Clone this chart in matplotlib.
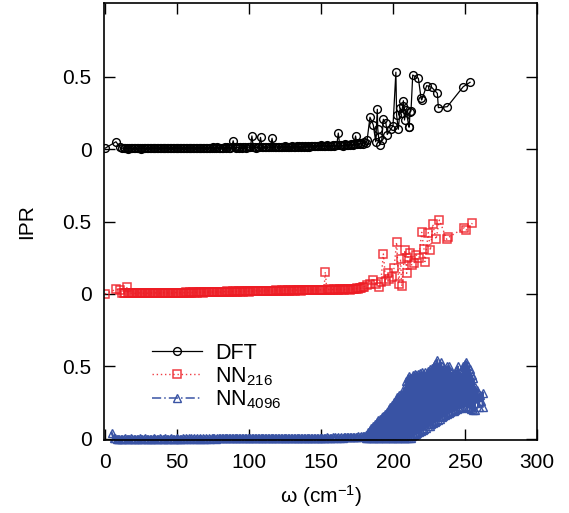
import matplotlib
matplotlib.use("Agg")
import matplotlib.pyplot as plt

plt.rcParams['font.family'] = ['Liberation Sans', 'DejaVu Sans']
plt.rcParams['mathtext.fontset'] = 'custom'
plt.rcParams['mathtext.rm'] = 'Liberation Sans'
plt.rcParams['mathtext.it'] = 'Liberation Sans:italic'

# ---------------- data ----------------
# low-frequency band: common frequency grid (cm^-1), 12 ... 180
band_w = [12, 13, 14, 15, 16, 17, 18, 19, 20, 21,
          22, 23, 24, 25, 26, 27, 28, 29, 30, 31,
          32, 33, 34, 35, 36, 37, 38, 39, 40, 41,
          42, 43, 44, 45, 46, 47, 48, 49, 50, 51,
          52, 53, 54, 55, 56, 57, 58, 59, 60, 61,
          62, 63, 64, 65, 66, 67, 68, 69, 70, 71,
          72, 73, 74, 75, 76, 77, 78, 79, 80, 81,
          82, 83, 84, 85, 86, 87, 88, 89, 90, 91,
          92, 93, 94, 95, 96, 97, 98, 99, 100, 101,
          102, 103, 104, 105, 106, 107, 108, 109, 110, 111,
          112, 113, 114, 115, 116, 117, 118, 119, 120, 121,
          122, 123, 124, 125, 126, 127, 128, 129, 130, 131,
          132, 133, 134, 135, 136, 137, 138, 139, 140, 141,
          142, 143, 144, 145, 146, 147, 148, 149, 150, 151,
          152, 153, 154, 155, 156, 157, 158, 159, 160, 161,
          162, 163, 164, 165, 166, 167, 168, 169, 170, 171,
          172, 173, 174, 175, 176, 177, 178, 179, 180]

# DFT
dft_head_w = [0, 7.6, 10.5]
dft_head_ipr = [0.005, 0.05, 0.012]
dft_band_ipr = [0.006, 0.004, 0.008, 0.005, 0.003, 0.007, 0.005, 0.004, 0.006, 0.005,
                0.004, 0.007, 0.005, 0.003, 0.006, 0.005, 0.004, 0.007, 0.005, 0.006,
                0.004, 0.007, 0.005, 0.006, 0.004, 0.008, 0.005, 0.006, 0.004, 0.007,
                0.005, 0.008, 0.006, 0.005, 0.009, 0.006, 0.005, 0.008, 0.006, 0.007,
                0.005, 0.009, 0.006, 0.008, 0.005, 0.007, 0.009, 0.006, 0.008, 0.007,
                0.006, 0.009, 0.007, 0.01, 0.006, 0.008, 0.01, 0.007, 0.009, 0.008,
                0.007, 0.01, 0.008, 0.011, 0.007, 0.009, 0.011, 0.008, 0.01, 0.009,
                0.008, 0.011, 0.009, 0.012, 0.008, 0.01, 0.012, 0.057, 0.011, 0.009,
                0.012, 0.01, 0.013, 0.009, 0.011, 0.014, 0.01, 0.012, 0.013, 0.011,
                0.09, 0.012, 0.014, 0.01, 0.013, 0.015, 0.08, 0.011, 0.014, 0.012,
                0.015, 0.011, 0.013, 0.016, 0.074, 0.012, 0.015, 0.013, 0.017, 0.014,
                0.012, 0.016, 0.014, 0.018, 0.013, 0.015, 0.017, 0.014, 0.019, 0.016,
                0.014, 0.018, 0.015, 0.02, 0.016, 0.019, 0.015, 0.021, 0.017, 0.019,
                0.016, 0.022, 0.018, 0.02, 0.024, 0.018, 0.022, 0.019, 0.025, 0.021,
                0.023, 0.019, 0.026, 0.022, 0.024, 0.02, 0.027, 0.023, 0.025, 0.03,
                0.11, 0.026, 0.03, 0.024, 0.028, 0.032, 0.027, 0.031, 0.029, 0.034,
                0.03, 0.036, 0.09, 0.033, 0.038, 0.035, 0.04, 0.037, 0.045]
dft_tail_w = [181, 182, 184, 186.3, 188, 189.1, 189.4, 190, 191, 192.2, 193.3, 195.1, 196,
              198.4, 200, 202, 202.5, 203.7, 205, 206, 206.7, 207.2, 208, 209, 211.1, 211.3,
              211.8, 212.5, 213.7, 217.6, 219.5, 219.9, 223.4, 226.9, 230.8, 231.5, 237.7,
              248.8, 253.5]
dft_tail_ipr = [0.04, 0.06, 0.219, 0.166, 0.05, 0.274, 0.14, 0.08, 0.03, 0.062, 0.205, 0.177,
                0.1, 0.136, 0.16, 0.53, 0.234, 0.136, 0.28, 0.25, 0.30, 0.333, 0.2, 0.27, 0.15,
                0.154, 0.257, 0.262, 0.51, 0.488, 0.35, 0.338, 0.437, 0.425, 0.384, 0.285,
                0.292, 0.43, 0.46]

# NN216
nn216_head_w = [0, 7.6, 10.4]
nn216_head_ipr = [0.0, 0.032, 0.028]
nn216_band_ipr = [0.01, 0.006, 0.008, 0.05, 0.007, 0.004, 0.006, 0.005, 0.007, 0.004,
                  0.006, 0.005, 0.007, 0.004, 0.006, 0.005, 0.007, 0.005, 0.006, 0.004,
                  0.007, 0.005, 0.006, 0.008, 0.005, 0.007, 0.006, 0.008, 0.006, 0.009,
                  0.006, 0.008, 0.007, 0.009, 0.006, 0.008, 0.007, 0.01, 0.007, 0.009,
                  0.008, 0.01, 0.007, 0.009, 0.011, 0.008, 0.01, 0.012, 0.009, 0.011,
                  0.01, 0.012, 0.009, 0.013, 0.011, 0.012, 0.01, 0.013, 0.011, 0.014,
                  0.012, 0.014, 0.011, 0.015, 0.013, 0.014, 0.012, 0.016, 0.013, 0.015,
                  0.014, 0.017, 0.015, 0.018, 0.014, 0.017, 0.016, 0.019, 0.015, 0.018,
                  0.016, 0.019, 0.017, 0.02, 0.016, 0.019, 0.018, 0.021, 0.017, 0.02,
                  0.018, 0.021, 0.019, 0.022, 0.018, 0.021, 0.02, 0.023, 0.019, 0.022,
                  0.02, 0.023, 0.021, 0.024, 0.02, 0.023, 0.022, 0.025, 0.021, 0.024,
                  0.022, 0.025, 0.023, 0.026, 0.022, 0.025, 0.024, 0.027, 0.023, 0.026,
                  0.024, 0.027, 0.025, 0.028, 0.024, 0.027, 0.026, 0.029, 0.025, 0.028,
                  0.026, 0.029, 0.027, 0.03, 0.026, 0.029, 0.028, 0.031, 0.027, 0.03,
                  0.028, 0.152, 0.029, 0.032, 0.028, 0.031, 0.03, 0.033, 0.029, 0.032,
                  0.03, 0.033, 0.031, 0.034, 0.03, 0.033, 0.032, 0.035, 0.031, 0.034,
                  0.033, 0.036, 0.034, 0.038, 0.035, 0.04, 0.038, 0.045, 0.05]
nn216_tail_w = [182, 184, 186.3, 188, 190, 191.5, 193.3, 195, 196.7, 197.5, 199, 200.7, 202.5,
                204, 205.3, 206, 208.3, 209.5, 209.9, 211.8, 213, 214.6, 216, 218, 219.9,
                221.5, 222.2, 224.5, 226, 227.6, 229.9, 232.2, 237.3, 238.5, 249.5, 250.7,
                255.1]
nn216_tail_ipr = [0.06, 0.07, 0.097, 0.07, 0.05, 0.08, 0.276, 0.09, 0.147, 0.1, 0.12, 0.177,
                  0.357, 0.07, 0.241, 0.055, 0.303, 0.143, 0.246, 0.285, 0.2, 0.212, 0.27,
                  0.25, 0.425, 0.31, 0.223, 0.423, 0.3, 0.481, 0.377, 0.51, 0.377, 0.39,
                  0.457, 0.44, 0.488]

# NN4096
nn4096_head_w = [4.6, 6, 7, 8, 9, 10, 11]
nn4096_head_ipr = [0.043, 0.006, 0.004, 0.003, 0.002, 0.003, 0.002]
nn4096_band_ipr = [0.003, 0.002, 0.004, 0.002, 0.003, 0.002, 0.004, 0.002, 0.003, 0.002,
                   0.003, 0.002, 0.004, 0.002, 0.003, 0.002, 0.004, 0.002, 0.003, 0.002,
                   0.003, 0.002, 0.004, 0.002, 0.003, 0.002, 0.004, 0.003, 0.003, 0.002,
                   0.004, 0.002, 0.003, 0.003, 0.004, 0.002, 0.003, 0.003, 0.004, 0.002,
                   0.003, 0.003, 0.004, 0.002, 0.004, 0.003, 0.004, 0.003, 0.004, 0.003,
                   0.004, 0.003, 0.004, 0.003, 0.005, 0.003, 0.004, 0.003, 0.005, 0.003,
                   0.004, 0.003, 0.005, 0.004, 0.005, 0.003, 0.005, 0.004, 0.005, 0.004,
                   0.005, 0.004, 0.006, 0.004, 0.005, 0.004, 0.006, 0.004, 0.005, 0.004,
                   0.006, 0.005, 0.006, 0.004, 0.006, 0.005, 0.006, 0.005, 0.007, 0.005,
                   0.006, 0.005, 0.007, 0.005, 0.007, 0.006, 0.007, 0.005, 0.008, 0.006,
                   0.007, 0.006, 0.008, 0.006, 0.007, 0.006, 0.008, 0.006, 0.008, 0.007,
                   0.007, 0.006, 0.008, 0.007, 0.008, 0.006, 0.009, 0.007, 0.008, 0.007,
                   0.008, 0.007, 0.009, 0.007, 0.008, 0.007, 0.009, 0.008, 0.009, 0.007,
                   0.009, 0.008, 0.01, 0.008, 0.009, 0.008, 0.01, 0.008, 0.009, 0.008,
                   0.01, 0.008, 0.011, 0.009, 0.01, 0.009, 0.011, 0.009, 0.012, 0.01,
                   0.011, 0.01, 0.012, 0.01, 0.013, 0.011, 0.012, 0.011, 0.014, 0.012,
                   0.015, 0.013, 0.016, 0.014, 0.018, 0.016, 0.02, 0.018, 0.022]
nn4096_tail_w = [181.0, 181.4, 181.8, 182.2, 182.6, 183.0, 183.4, 183.8, 184.2, 184.6,
                 185.0, 185.4, 185.8, 186.2, 186.6, 187.0, 187.4, 187.8, 188.2, 188.6,
                 189.0, 189.4, 189.8, 190.2, 190.6, 191.0, 191.4, 191.8, 192.2, 192.6,
                 193.0, 193.4, 193.8, 194.2, 194.6, 195.0, 195.4, 195.8, 196.2, 196.6,
                 197.0, 197.4, 197.8, 198.2, 198.6, 199.0, 199.4, 199.8, 200.2, 200.6,
                 201.0, 201.4, 201.8, 202.2, 202.6, 203.0, 203.4, 203.8, 204.2, 204.6,
                 205.0, 205.4, 205.8, 206.2, 206.6, 207.0, 207.4, 207.8, 208.2, 208.6,
                 209.0, 209.4, 209.8, 210.2, 210.6, 211.0, 211.4, 211.8, 212.2, 212.6,
                 213.0, 213.4, 213.8, 214.2, 214.6, 215.0, 215.4, 215.8, 216.2, 216.6,
                 217.0, 217.4, 217.8, 218.2, 218.6, 219.0, 219.4, 219.8, 220.2, 220.6,
                 221.0, 221.4, 221.8, 222.2, 222.6, 223.0, 223.4, 223.8, 224.2, 224.6,
                 225.0, 225.4, 225.8, 226.2, 226.6, 227.0, 227.4, 227.8, 228.2, 228.6,
                 229.0, 229.4, 229.8, 230.2, 230.6, 231.0, 231.4, 231.8, 232.2, 232.6,
                 233.0, 233.4, 233.8, 234.2, 234.6, 235.0, 235.4, 235.8, 236.2, 236.6,
                 237.0, 237.4, 237.8, 238.2, 238.6, 239.0, 239.4, 239.8, 240.2, 240.6,
                 241.0, 241.4, 241.8, 242.2, 242.6, 243.0, 243.4, 243.8, 244.2, 244.6,
                 245.0, 245.4, 245.8, 246.2, 246.6, 247.0, 247.4, 247.8, 248.2, 248.6,
                 249.0, 249.4, 249.8, 250.2, 250.6, 251.0, 251.4, 251.8, 252.2, 252.6,
                 253.0, 253.4, 253.8, 254.2, 254.6, 255.0, 255.4, 255.8, 256.2, 256.6,
                 257.0, 257.8, 258.6, 259.4, 260.2, 261.0, 262.3, 262.3]
nn4096_tail_ipr = [0.005, 0.03, 0.015, 0.004, 0.05, 0.025, 0.006, 0.062, 0.03, 0.004,
                   0.075, 0.04, 0.005, 0.09, 0.045, 0.006, 0.1, 0.05, 0.005, 0.115,
                   0.06, 0.005, 0.13, 0.07, 0.006, 0.14, 0.07, 0.005, 0.15, 0.08,
                   0.006, 0.16, 0.09, 0.005, 0.17, 0.09, 0.007, 0.185, 0.1, 0.005,
                   0.205, 0.11, 0.006, 0.22, 0.12, 0.005, 0.235, 0.13, 0.006, 0.255,
                   0.14, 0.005, 0.27, 0.15, 0.006, 0.29, 0.15, 0.005, 0.3, 0.16,
                   0.006, 0.31, 0.17, 0.005, 0.32, 0.18, 0.007, 0.35, 0.2, 0.006,
                   0.4, 0.22, 0.008, 0.42, 0.23, 0.007, 0.437, 0.24, 0.01, 0.42,
                   0.24, 0.018, 0.44, 0.25, 0.025, 0.45, 0.26, 0.035, 0.44, 0.26,
                   0.042, 0.45, 0.27, 0.048, 0.453, 0.27, 0.055, 0.46, 0.28, 0.06,
                   0.45, 0.28, 0.07, 0.46, 0.29, 0.078, 0.44, 0.3, 0.088, 0.47,
                   0.3, 0.092, 0.48, 0.3, 0.1, 0.49, 0.31, 0.11, 0.5, 0.32,
                   0.12, 0.52, 0.33, 0.126, 0.545, 0.33, 0.133, 0.5, 0.33, 0.14,
                   0.53, 0.34, 0.15, 0.5, 0.33, 0.157, 0.48, 0.33, 0.165, 0.47,
                   0.33, 0.17, 0.5, 0.34, 0.176, 0.5, 0.34, 0.183, 0.46, 0.33,
                   0.19, 0.45, 0.32, 0.196, 0.44, 0.32, 0.202, 0.47, 0.33, 0.208,
                   0.5, 0.33, 0.212, 0.46, 0.32, 0.215, 0.45, 0.33, 0.22, 0.5,
                   0.34, 0.22, 0.52, 0.35, 0.225, 0.533, 0.35, 0.22, 0.5, 0.34,
                   0.215, 0.48, 0.32, 0.21, 0.44, 0.3, 0.2, 0.418, 0.3, 0.2,
                   0.36, 0.25, 0.34, 0.22, 0.3, 0.26, 0.32, 0.223]

offsets = [2.0, 1.0, 0.0]
labels = ['DFT', r'NN$_{216}$', r'NN$_{4096}$']
ytick_pos = [0, 0.5, 1.0, 1.5, 2.0, 2.5]
ytick_lab = ['0', '0.5', '0', '0.5', '0', '0.5']
xtick_pos = [0, 50, 100, 150, 200, 250, 300]

black = '#000000'
red = '#ed1c24'
blue = '#3953a4'

dft_w = dft_head_w + band_w + dft_tail_w
dft_ipr = dft_head_ipr + dft_band_ipr + dft_tail_ipr
nn216_w = nn216_head_w + band_w + nn216_tail_w
nn216_ipr = nn216_head_ipr + nn216_band_ipr + nn216_tail_ipr
nn4096_w = nn4096_head_w + band_w + nn4096_tail_w
nn4096_ipr = nn4096_head_ipr + nn4096_band_ipr + nn4096_tail_ipr

fig = plt.figure(figsize=(5.69, 5.13), dpi=100)
ax = fig.add_axes([104/569, 73/513, 433/569, 437/513])

ax.plot(dft_w, [v + offsets[0] for v in dft_ipr], color=black, lw=0.9, ls='-',
        marker='o', ms=5.6, mfc='none', mec=black, mew=1.0, label=labels[0])
ax.plot(nn216_w, [v + offsets[1] for v in nn216_ipr], color=red, lw=1.0, ls=(0, (1, 2)),
        marker='s', ms=5.4, mfc='none', mec=red, mew=1.1, alpha=0.85, label=labels[1])
ax.plot(nn4096_w, [v + offsets[2] for v in nn4096_ipr], color=blue, lw=1.6, ls='-',
        marker='^', ms=6, mfc='none', mec=blue, mew=1.0,
        label=labels[2], clip_on=False)

ax.set_xlim(-0.7, 300)
ax.set_ylim(-0.007, 3.007)
ax.set_xticks(xtick_pos)
ax.set_yticks(ytick_pos)
ax.set_yticklabels(ytick_lab)
ax.tick_params(direction='in', length=8, width=1, top=True, right=True,
               labelsize=15, pad=9)
for s in ax.spines.values():
    s.set_linewidth(1.2)

ax.set_xlabel(r'ω (cm$^{-1}$)', fontsize=15, labelpad=8)
ax.set_ylabel('IPR', fontsize=15, labelpad=19)

leg = ax.legend(loc='upper left', bbox_to_anchor=(0.092, 0.242), frameon=False,
                fontsize=15.5, handlelength=2.3, handletextpad=0.6, labelspacing=0.05,
                numpoints=1, borderaxespad=0)
# legend handle for NN4096 uses the dash-dot style of the original figure
leg.get_lines()[2].set_linewidth(1.1)
leg.get_lines()[2].set_linestyle((0, (6, 2, 1, 2)))

fig.savefig('out.png', dpi=100)
